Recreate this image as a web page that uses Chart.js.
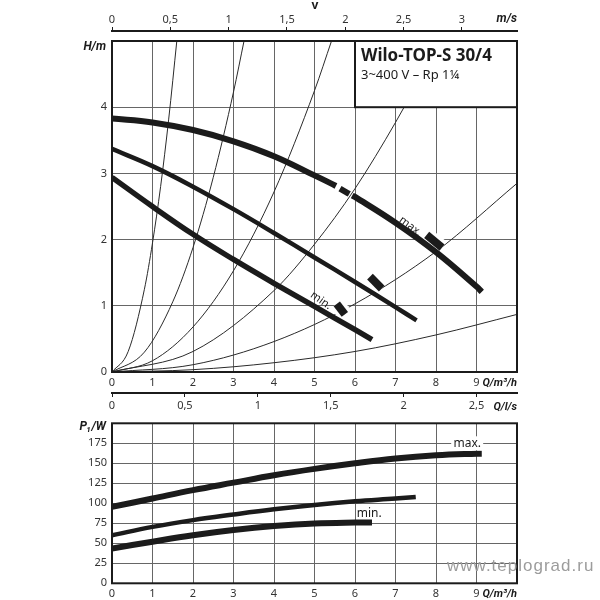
<!DOCTYPE html>
<html>
<head>
<meta charset="utf-8">
<script src="https://cdn.jsdelivr.net/npm/chart.js@4.4.1/dist/chart.umd.min.js"></script>
<style>
    body { margin: 0; background: #fff; }
    #wrap { position: relative; width: 600px; height: 600px; overflow: hidden; }
    canvas { position: absolute; left: 0; }
    #headChart { top: 0; }
    #powerChart { top: 400px; }
</style>
</head>
<body>
<div id="wrap">
    <canvas id="headChart" width="600" height="420"></canvas>
    <canvas id="powerChart" width="600" height="200"></canvas>
</div>
<script>
// H(Q) pump curves, Q in m3/h, H in m
const hMaxQ = [0, 1, 2, 3, 4, 5, 5.53, 5.63, 5.86, 5.93, 6, 7, 8, 9, 9.13];
const hMaxH = [3.83, 3.77, 3.655, 3.485, 3.26, 2.97, 2.81, 2.77, 2.69, 2.665, 2.645, 2.255, 1.81, 1.29, 1.21];
const hMaxBreaks = [5.53, 5.86]; // the max curve is broken after these points
const hMidQ = [0, 1, 2, 3, 4, 5, 6, 7, 7.52];
const hMidH = [3.37, 3.11, 2.80, 2.46, 2.10, 1.73, 1.36, 0.98, 0.78];
const hMinQ = [0, 1, 2, 3, 4, 5, 6, 6.42];
const hMinH = [2.94, 2.50, 2.08, 1.70, 1.34, 0.99, 0.64, 0.49];

// system curves [Q, H]
const sys1 = [[0, 0], [0.4, 0.31], [0.8, 1.25], [1.0, 1.95], [1.2, 2.8], [1.4, 3.82], [1.6, 5.0]];
const sys2 = [[0, 0], [0.8, 0.3], [1.5, 1.06], [2, 1.88], [2.5, 2.94], [3, 4.23], [3.26, 5.0]];
const sys3 = [[0, 0], [1, 0.17], [2, 0.68], [3, 1.53], [4, 2.72], [5, 4.25], [5.42, 5.0]];
const sys4 = [[0, 0], [2, 0.31], [4, 1.23], [5, 1.93], [6, 2.77], [7, 3.77], [8.1, 5.0]];
const sys5 = [[0, 0], [2, 0.11], [4, 0.46], [6, 1.03], [8, 1.82], [10, 2.85]];
const sys6 = [[0, 0], [2, 0.035], [4, 0.14], [6, 0.31], [8, 0.56], [10, 0.87]];

// short setting marks [Q1, H1, Q2, H2]
const marks = [[7.77, 2.07, 8.15, 1.88], [6.37, 1.44, 6.66, 1.26], [5.55, 1.03, 5.75, 0.87]];

// P1(Q) curves, P1 in W
const pMaxQ = [0, 1, 2, 3, 4, 5, 6, 7, 8, 9, 9.13];
const pMaxP = [95.5, 106, 116.5, 125.8, 135, 143, 150, 156, 160, 162, 162];
const pMidQ = [0, 1, 2, 3, 4, 5, 6, 7, 7.5];
const pMidP = [60, 70.5, 79, 86, 92.5, 98, 102.5, 106, 108];
const pMinQ = [0, 1, 2, 3, 4, 5, 6, 6.42];
const pMinP = [43.5, 52, 60, 66.5, 71.5, 74.8, 76, 76];

// axis conversion factors
const qPerMs = 2.88; // m3/h per m/s
const qPerLs = 3.6;  // m3/h per l/s

const INK = '#1b1b1b';
const GRID = '#666';
const TXT = '#333';
const FONT = '"Noto Sans", "Open Sans", sans-serif';

Chart.defaults.font.family = FONT;
Chart.defaults.font.size = 11;
Chart.defaults.color = TXT;

const pts = (xs, ys) => xs.map((x, i) => ({ x: x, y: ys[i] }));
const pairs = arr => arr.map(p => ({ x: p[0], y: p[1] }));
const comma = v => String(v).replace('.', ',');

function curve(data, width, order, extra) {
    return Object.assign({
        data: data,
        borderColor: INK,
        borderWidth: width,
        pointRadius: 0,
        fill: false,
        tension: 0.4,
        xAxisID: 'x',
        yAxisID: 'y',
        order: order
    }, extra || {});
}

function text(ctx, str, x, y, font, align, color, angle) {
    ctx.save();
    ctx.translate(x, y);
    if (angle) ctx.rotate(angle * Math.PI / 180);
    ctx.font = font;
    ctx.fillStyle = color || INK;
    ctx.textAlign = align || 'center';
    ctx.textBaseline = 'middle';
    ctx.fillText(str, 0, 0);
    ctx.restore();
}

function frame(chart) {
    const a = chart.chartArea;
    const ctx = chart.ctx;
    ctx.save();
    ctx.strokeStyle = INK;
    ctx.lineWidth = 2;
    ctx.strokeRect(a.left, a.top, a.right - a.left, a.bottom - a.top);
    ctx.restore();
}

const BI = 'italic bold 12px Roboto, "Noto Sans", sans-serif';
const BIQ = 'italic bold 11px Roboto, "Noto Sans", sans-serif';

// ---------- head chart ----------
const headDatasets = [];
[sys1, sys2, sys3, sys4, sys5, sys6].forEach(s => {
    headDatasets.push(curve(pairs(s), 1, 40, { borderColor: '#2a2a2a', tension: 0, cubicInterpolationMode: 'monotone' }));
});
marks.forEach(m => {
    const seg = [{ x: m[0], y: m[1] }, { x: m[2], y: m[3] }];
    headDatasets.push(curve(seg, 15, 30, { borderColor: '#fff', tension: 0 }));
    headDatasets.push(curve(seg, 8, 10, { tension: 0 }));
});
headDatasets.push(curve(pts(hMaxQ, hMaxH), 6, 20, {
    segment: {
        borderColor: c => hMaxBreaks.some(b => Math.abs(c.p0.parsed.x - b) < 1e-6) ? 'rgba(0,0,0,0)' : INK
    }
}));
headDatasets.push(curve(pts(hMidQ, hMidH), 4.5, 20));
headDatasets.push(curve(pts(hMinQ, hMinH), 5.5, 20));

const headExtras = {
    id: 'headExtras',
    afterDatasetsDraw(chart) {
        const ctx = chart.ctx;
        const x = chart.scales.x;
        const y = chart.scales.y;
        const a = chart.chartArea;
        frame(chart);

        // type box
        const bx = x.getPixelForValue(6);
        const by = y.getPixelForValue(4);
        ctx.save();
        ctx.fillStyle = '#fff';
        ctx.fillRect(bx, a.top, a.right - bx, by - a.top);
        ctx.strokeStyle = INK;
        ctx.lineWidth = 2;
        ctx.strokeRect(bx, a.top, a.right - bx, by - a.top);
        ctx.restore();
        text(ctx, 'Wilo-TOP-S 30/4', bx + 6, a.top + 15, 'bold 17px ' + FONT, 'left', INK);
        text(ctx, '3~400 V \u2013 Rp 1\u00bc', bx + 6, a.top + 34, '13px ' + FONT, 'left', INK);

        text(ctx, 'max.', x.getPixelForValue(7.37), y.getPixelForValue(2.2), '11px ' + FONT, 'center', INK, 37);
        text(ctx, 'min.', x.getPixelForValue(5.16), y.getPixelForValue(1.08), '11px ' + FONT, 'center', INK, 35);

        text(ctx, 'H/m', a.left - 6, a.top + 6, BI, 'right', INK);
        text(ctx, 'v', 315, 6, 'bold 12px ' + FONT, 'center', INK);
        text(ctx, 'm/s', a.right, 19, BI, 'right', INK);
        text(ctx, 'Q/m\u00b3/h', a.right, a.bottom + 11, BIQ, 'right', INK);
        text(ctx, 'Q/l/s', a.right, 407, BIQ, 'right', INK);
    }
};

new Chart(document.getElementById('headChart'), {
    type: 'line',
    data: { datasets: headDatasets },
    options: {
        responsive: false,
        animation: false,
        devicePixelRatio: 1,
        layout: { padding: { top: 9, right: 83, bottom: 7, left: 0 } },
        plugins: { legend: { display: false }, tooltip: { enabled: false } },
        scales: {
            x: {
                type: 'linear', axis: 'x', position: 'bottom', min: 0, max: 10, weight: 0,
                ticks: { stepSize: 1, padding: 4, maxRotation: 0, callback: v => v < 10 ? v : '' },
                grid: { color: GRID, lineWidth: 1, drawTicks: false },
                border: { display: false },
                afterFit: s => { s.height = 21; }
            },
            ls: {
                type: 'linear', axis: 'x', position: 'bottom', min: 0, max: 10 / qPerLs, weight: 1,
                ticks: { stepSize: 0.5, includeBounds: false, padding: 2, maxRotation: 0, callback: comma },
                grid: { drawOnChartArea: false, tickLength: 4, color: INK, lineWidth: 1 },
                border: { display: true, color: INK, width: 2 },
                afterFit: s => { s.height = 20; }
            },
            gap: {
                type: 'linear', axis: 'x', position: 'top', weight: 0,
                ticks: { display: false },
                grid: { display: false },
                border: { display: false },
                afterFit: s => { s.height = 10; }
            },
            v: {
                type: 'linear', axis: 'x', position: 'top', min: 0, max: 10 / qPerMs, weight: 1,
                ticks: { stepSize: 0.5, includeBounds: false, padding: 1, maxRotation: 0, callback: comma },
                grid: { drawOnChartArea: false, tickLength: 4, color: INK, lineWidth: 1 },
                border: { display: true, color: INK, width: 2 },
                afterFit: s => { s.height = 22; }
            },
            y: {
                type: 'linear', axis: 'y', position: 'left', min: 0, max: 5,
                ticks: { stepSize: 1, padding: 5, callback: v => v < 5 ? v : '' },
                grid: { color: GRID, lineWidth: 1, drawTicks: false },
                border: { display: false },
                afterFit: s => { s.width = 112; }
            }
        }
    },
    plugins: [headExtras]
});

// ---------- power chart ----------
const powerExtras = {
    id: 'powerExtras',
    afterDatasetsDraw(chart) {
        const ctx = chart.ctx;
        const x = chart.scales.x;
        const y = chart.scales.y;
        const a = chart.chartArea;
        frame(chart);

        const mx = x.getPixelForValue(8.77);
        const my = y.getPixelForValue(175);
        ctx.save();
        ctx.fillStyle = '#fff';
        ctx.fillRect(mx - 16, my - 7, 32, 14);
        ctx.restore();
        text(ctx, 'max.', mx, my, '12px ' + FONT, 'center', INK);
        text(ctx, 'min.', x.getPixelForValue(6.35), y.getPixelForValue(87.5), '12px ' + FONT, 'center', INK);

        text(ctx, 'P\u2081/W', a.left - 6, a.top + 4, BI, 'right', INK);
        text(ctx, 'Q/m\u00b3/h', a.right, a.bottom + 11, BIQ, 'right', INK);

        ctx.save();
        ctx.letterSpacing = '1px';
        text(ctx, 'www.teplograd.ru', 447, 166, '17px "Liberation Sans", Arial, sans-serif', 'left', '#9c9c9c');
        ctx.restore();
    }
};

new Chart(document.getElementById('powerChart'), {
    type: 'line',
    data: {
        datasets: [
            curve(pts(pMaxQ, pMaxP), 6, 20),
            curve(pts(pMidQ, pMidP), 4.5, 20),
            curve(pts(pMinQ, pMinP), 6, 20)
        ]
    },
    options: {
        responsive: false,
        animation: false,
        devicePixelRatio: 1,
        layout: { padding: { top: 23.3, right: 83, bottom: 0, left: 0 } },
        plugins: { legend: { display: false }, tooltip: { enabled: false } },
        scales: {
            x: {
                type: 'linear', position: 'bottom', min: 0, max: 10,
                ticks: { stepSize: 1, padding: 4, maxRotation: 0, callback: v => v < 10 ? v : '' },
                grid: { color: GRID, lineWidth: 1, drawTicks: false },
                border: { display: false },
                afterFit: s => { s.height = 16.7; }
            },
            y: {
                type: 'linear', position: 'left', min: 0, max: 200,
                ticks: { stepSize: 25, padding: 5, callback: v => v < 200 ? v : '' },
                grid: { color: GRID, lineWidth: 1, drawTicks: false },
                border: { display: false },
                afterFit: s => { s.width = 112; }
            }
        }
    },
    plugins: [powerExtras]
});
</script>
</body>
</html>
